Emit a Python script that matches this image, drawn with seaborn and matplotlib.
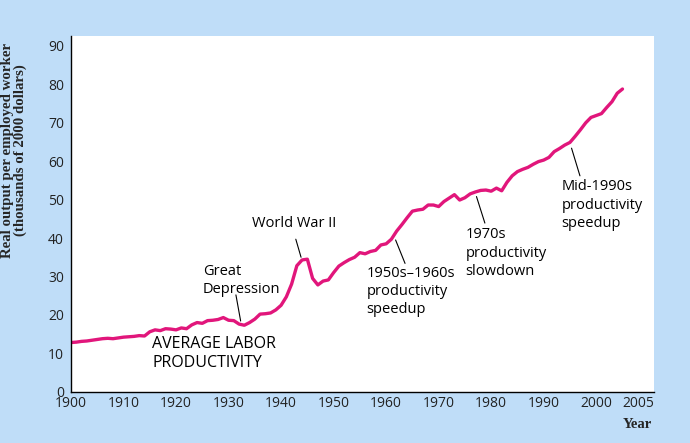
import matplotlib
matplotlib.use("Agg")
import matplotlib.pyplot as plt
import seaborn as sns
import pandas as pd

years = list(range(1900, 2006))
productivity = [
    12.8, 12.9, 13.1, 13.2, 13.4, 13.6, 13.8, 13.9, 13.8, 14.0,
    14.2, 14.3, 14.4, 14.6, 14.5, 15.6, 16.1, 15.9, 16.4, 16.3,
    16.1, 16.6, 16.4, 17.4, 18.0, 17.8, 18.5, 18.6, 18.8, 19.3,
    18.6, 18.5, 17.6, 17.3, 18.0, 18.9, 20.2, 20.3, 20.5, 21.3,
    22.5, 24.7, 28.0, 32.8, 34.3, 34.5, 29.5, 27.8, 28.8, 29.1,
    31.0, 32.7, 33.6, 34.4, 35.0, 36.2, 35.9, 36.5, 36.8, 38.2,
    38.5, 39.7, 41.8, 43.5, 45.3, 47.0, 47.3, 47.5, 48.6, 48.6,
    48.2, 49.5, 50.4, 51.3, 49.9, 50.5, 51.5, 52.0, 52.4, 52.5,
    52.2, 53.0, 52.3, 54.5, 56.2, 57.3, 57.9, 58.4, 59.2, 59.9,
    60.3, 61.0, 62.5, 63.3, 64.2, 64.9, 66.5, 68.2, 70.0, 71.4,
    71.9, 72.4, 74.0, 75.5, 77.7, 78.8,
]
x_ticks = [1900, 1910, 1920, 1930, 1940, 1950, 1960, 1970, 1980, 1990, 2000, 2005]
y_ticks = [0, 10, 20, 30, 40, 50, 60, 70, 80, 90]

annotations = [
    ("Great\nDepression", (1925.1, 33.2), (1931.4, 25.2), (1932.3, 18.4)),
    ("World War II", (1934.4, 45.8), (1942.8, 39.7), (1943.8, 35.0)),
    ("1950s\u20131960s\nproductivity\nspeedup", (1956.3, 32.8), (1961.8, 39.5), (1963.6, 33.4)),
    ("1970s\nproductivity\nslowdown", (1975.1, 42.8), (1977.2, 50.8), (1978.8, 43.9)),
    ("Mid-1990s\nproductivity\nspeedup", (1993.4, 55.3), (1995.3, 63.4), (1996.9, 56.2)),
]
series_label = "AVERAGE LABOR\nPRODUCTIVITY"

df = pd.DataFrame({"Year": years, "Output": productivity})

sns.set_style("white")
plt.rcParams["font.family"] = ["Open Sans", "DejaVu Sans"]

BG = "#bfddf8"
LINE = "#e1167b"

fig = plt.figure(figsize=(6.9, 4.43), dpi=100, facecolor=BG)
ax = fig.add_axes([71 / 690, 1 - 391.7 / 443, (654 - 71) / 690, (391.7 - 36) / 443])
ax.set_facecolor("white")

sns.lineplot(data=df, x="Year", y="Output", ax=ax, color=LINE, linewidth=2.4)

ax.set_xlim(1900, 2011)
ax.set_ylim(0, 92.6)
ax.set_xticks(x_ticks)
ax.set_yticks(y_ticks)
ax.tick_params(axis="both", direction="in", length=6, width=0.8, colors="black",
               labelsize=10, labelcolor="#222222")
ax.tick_params(axis="x", pad=3)
ax.tick_params(axis="y", pad=5)
xlabels = ax.get_xticklabels()
xlabels[-1].set_horizontalalignment("left")
for lab in xlabels[-2:-1]:
    lab.set_horizontalalignment("center")
for s in ["top", "right"]:
    ax.spines[s].set_visible(False)
for s in ["left", "bottom"]:
    ax.spines[s].set_color("black")
    ax.spines[s].set_linewidth(1.0)
ax.set_xlabel("")
ax.set_ylabel("")

ax.text(1915.5, 14.4, series_label, ha="left", va="top", fontsize=11.5, color="black",
        linespacing=1.25)

for text, tpos, l1, l2 in annotations:
    ax.text(tpos[0], tpos[1], text, ha="left", va="top", fontsize=10.5, color="black",
            linespacing=1.3)
    ax.annotate("", xy=l2, xytext=l1,
                arrowprops=dict(arrowstyle="-", color="black", lw=0.8,
                                shrinkA=0, shrinkB=0))

fig.text(14 / 690, 1 - 150 / 443,
         "Real output per employed worker\n(thousands of 2000 dollars)",
         rotation=90, ha="center", va="center", multialignment="center",
         fontsize=10.7, fontweight="bold", family=["Liberation Serif", "DejaVu Serif"],
         linespacing=1.0)
fig.text(652 / 690, 1 - 425 / 443, "Year", ha="right", va="center",
         fontsize=10.5, fontweight="bold", family=["Liberation Serif", "DejaVu Serif"])

fig.savefig("out.png", dpi=100, facecolor=BG)
